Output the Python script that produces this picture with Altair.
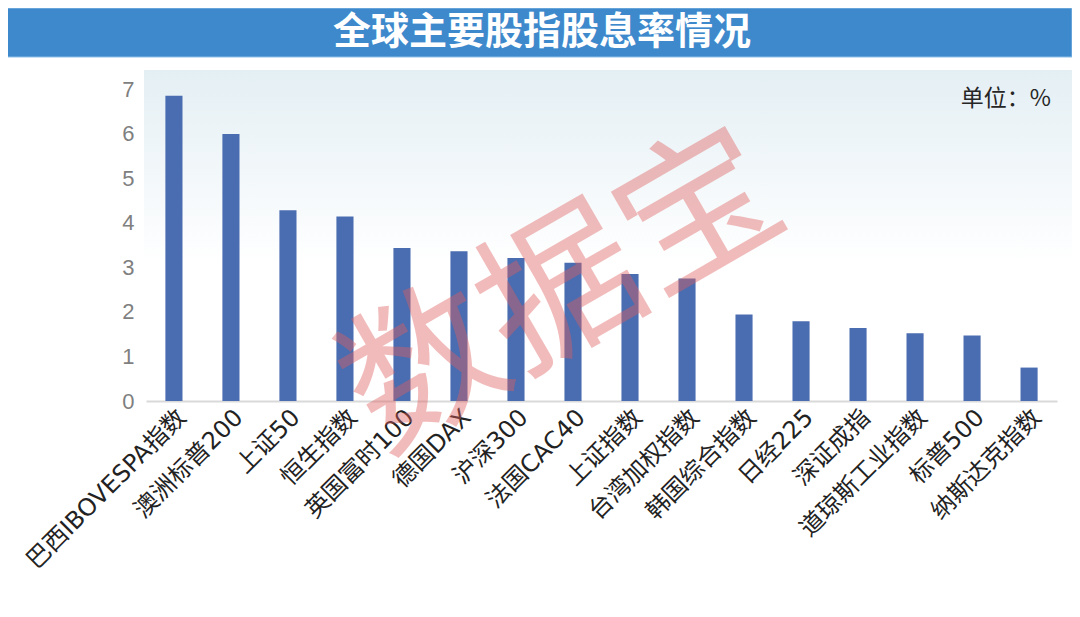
import altair as alt
import pandas as pd

# ---- data ----
indices = ["巴西IBOVESPA指数", "澳洲标普200", "上证50", "恒生指数", "英国富时100", "德国DAX",
           "沪深300", "法国CAC40", "上证指数", "台湾加权指数", "韩国综合指数", "日经225",
           "深证成指", "道琼斯工业指数", "标普500", "纳斯达克指数"]
yields = [6.85, 5.99, 4.28, 4.14, 3.43, 3.36, 3.21, 3.10, 2.85, 2.75, 1.94, 1.79,
          1.64, 1.52, 1.47, 0.75]
title_text = ["全球主要股指股息率情况"]
unit_text = ["单位：%"]
watermark_text = ["数据宝"]
y_ticks = [0, 1, 2, 3, 4, 5, 6, 7]

df = pd.DataFrame({"index": indices, "yield": yields})

CJK = "Noto Sans CJK SC"
LABEL_FONT = "DejaVu Sans, Noto Sans CJK SC"

# ---- decorations ----
banner = alt.Chart(pd.DataFrame({"t": title_text})).mark_rect(
    color="#3d89cc", stroke="#8fbfe6", strokeWidth=1
).encode(x=alt.value(-140), x2=alt.value(926), y=alt.value(-81), y2=alt.value(-32))

title = alt.Chart(pd.DataFrame({"t": title_text})).mark_text(
    font=CJK, fontSize=38, fontWeight="bold", color="white", align="center", baseline="middle"
).encode(text="t:N", x=alt.value(396), y=alt.value(-56))

panel = alt.Chart(pd.DataFrame({"t": title_text})).mark_rect(
    color=alt.LinearGradient(
        gradient="linear", x1=0, x2=0, y1=0, y2=1,
        stops=[alt.GradientStop(offset=0, color="#e4eff4"),
               alt.GradientStop(offset=1, color="#ffffff")],
    )
).encode(x=alt.value(-2), x2=alt.value(926), y=alt.value(-19), y2=alt.value(175))

unit = alt.Chart(pd.DataFrame({"t": unit_text})).mark_text(
    font=CJK, fontSize=23, color="#262626", align="right", baseline="middle"
).encode(text="t:N", x=alt.value(905), y=alt.value(10))

bars = alt.Chart(df).mark_bar(color="#4a6cb0").encode(
    x=alt.X("index:N", sort=None, title=None,
            scale=alt.Scale(paddingInner=0.7, paddingOuter=0.34),
            axis=alt.Axis(labelAngle=315, labelFont=LABEL_FONT, labelFontSize=24,
                          labelColor="#222222", labelPadding=4, ticks=False,
                          domainColor="#d9d9d9", domainWidth=2, labelLimit=400)),
    y=alt.Y("yield:Q", title=None,
            scale=alt.Scale(domain=[0, 7], nice=False),
            axis=alt.Axis(values=y_ticks, grid=False, domain=False, ticks=False,
                          labelFont="Liberation Sans", labelFontSize=22, labelColor="#7f7f7f",
                          labelPadding=12)),
)

watermark = alt.Chart(pd.DataFrame({"t": watermark_text})).mark_text(
    font=CJK, fontSize=158, color="#e06060", opacity=0.42, angle=330,
    align="center", baseline="middle"
).encode(text="t:N", x=alt.value(418), y=alt.value(206))

chart = alt.layer(banner, title, panel, unit, bars, watermark).properties(
    width=911, height=312,
    padding={"left": 138, "top": 81, "right": 15, "bottom": 200},
    autosize=alt.AutoSizeParams(type="none"),
    background="white",
).configure_view(stroke=None)

chart.save("out.html", embed_options={"renderer": "svg", "actions": False})
